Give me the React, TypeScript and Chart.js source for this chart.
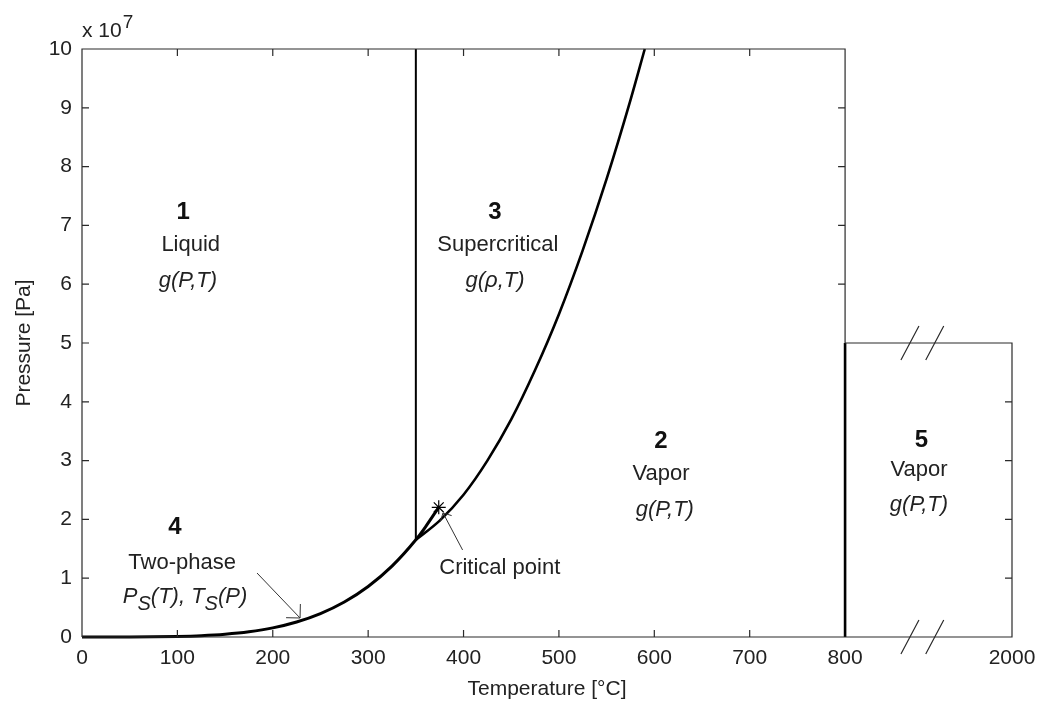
import React, { useEffect, useRef } from "react";
import { Chart, registerables } from "chart.js";

Chart.register(...registerables);

// ---------- data (temperature in °C, pressure in units of 1e7 Pa) ----------
const saturationT = [0, 25, 50, 75, 100, 125, 150, 175, 200, 225, 250, 275, 300, 325, 350, 360, 374];
const saturationP = [0.0001, 0.0003, 0.0012, 0.0039, 0.0101, 0.0232, 0.0476, 0.089, 0.155, 0.255, 0.398, 0.595, 0.859, 1.205, 1.653, 1.87, 2.206];

const b23T = [350, 375, 400, 425, 450, 475, 500, 525, 550, 575, 590];
const b23P = [1.653, 1.98, 2.42, 3.0, 3.7, 4.54, 5.49, 6.58, 7.79, 9.13, 10.0];

const b13T = [350, 350];
const b13P = [1.653, 10];

const b25T = [800, 800];
const b25P = [0, 5];

const criticalT = [374];
const criticalP = [2.206];

const xTickValues = [0, 100, 200, 300, 400, 500, 600, 700, 800, 975];
const xTickLabels = ["0", "100", "200", "300", "400", "500", "600", "700", "800", "2000"];
const yTickValues = [0, 1, 2, 3, 4, 5, 6, 7, 8, 9, 10];

const xMain = 800; // end of the main temperature range
const xEnd = 975; // axis end (labelled 2000)
const yMax = 10;
const region5Top = 5;
const breakMarksX = [868, 894];

// annotation texts (anchored in data coordinates)
const regionNumbers = [
  { text: "1", x: 106, y: 7.23 },
  { text: "3", x: 433, y: 7.23 },
  { text: "2", x: 607, y: 3.32 },
  { text: "5", x: 880, y: 3.35 },
  { text: "4", x: 97.5, y: 1.87 },
];
const regionNames = [
  { text: "Liquid", x: 114, y: 6.67 },
  { text: "Supercritical", x: 436, y: 6.67 },
  { text: "Vapor", x: 607, y: 2.77 },
  { text: "Vapor", x: 877.5, y: 2.84 },
  { text: "Two-phase", x: 105, y: 1.26 },
  { text: "Critical point", x: 438, y: 1.17 },
];
const regionFunctions = [
  { text: "g(P,T)", x: 111, y: 6.05 },
  { text: "g(\u03C1,T)", x: 433, y: 6.05 },
  { text: "g(P,T)", x: 611, y: 2.16 },
  { text: "g(P,T)", x: 877.5, y: 2.24 },
];
const twoPhaseFunctionPos = { x: 108, y: 0.68 };
const arrows = [
  { x1: 183.5, y1: 1.088, x2: 228.6, y2: 0.323, head: 14 },
  { x1: 399, y1: 1.48, x2: 378.5, y2: 2.11, head: 9 },
];

const FONT = 'Arial, "Liberation Sans", Helvetica, sans-serif';
const TEXT_COLOR = "#222";

function pts(xs: number[], ys: number[]) {
  return xs.map((x, i) => ({ x, y: ys[i] }));
}

const framePlugin = {
  id: "frameAndText",
  afterDraw(chart: any) {
    const ctx = chart.ctx as CanvasRenderingContext2D;
    const xs = chart.scales.x;
    const ys = chart.scales.y;
    const px = (v: number) => xs.getPixelForValue(v);
    const py = (v: number) => ys.getPixelForValue(v);
    ctx.save();

    // frame
    ctx.strokeStyle = "#2a2a2a";
    ctx.lineWidth = 1.2;
    ctx.beginPath();
    ctx.moveTo(px(0), py(0));
    ctx.lineTo(px(0), py(yMax));
    ctx.lineTo(px(xMain), py(yMax));
    ctx.lineTo(px(xMain), py(region5Top));
    ctx.lineTo(px(xEnd), py(region5Top));
    ctx.lineTo(px(xEnd), py(0));
    ctx.lineTo(px(0), py(0));
    ctx.stroke();

    // ticks (inward)
    const tl = 7;
    ctx.beginPath();
    yTickValues.forEach((v) => {
      if (v > 0 && v < yMax) {
        ctx.moveTo(px(0), py(v));
        ctx.lineTo(px(0) + tl, py(v));
      }
      if (v > region5Top && v < yMax) {
        ctx.moveTo(px(xMain), py(v));
        ctx.lineTo(px(xMain) - tl, py(v));
      }
      if (v > 0 && v < region5Top) {
        ctx.moveTo(px(xEnd), py(v));
        ctx.lineTo(px(xEnd) - tl, py(v));
      }
    });
    xTickValues.forEach((v) => {
      if (v > 0 && v < xMain) {
        ctx.moveTo(px(v), py(0));
        ctx.lineTo(px(v), py(0) - tl);
        ctx.moveTo(px(v), py(yMax));
        ctx.lineTo(px(v), py(yMax) + tl);
      }
    });
    ctx.stroke();

    // axis break marks
    ctx.beginPath();
    [0, region5Top].forEach((yv) => {
      breakMarksX.forEach((bx) => {
        const cx = px(bx);
        const cy = py(yv);
        ctx.moveTo(cx - 9, cy + 17);
        ctx.lineTo(cx + 9, cy - 17);
      });
    });
    ctx.stroke();

    // arrows
    ctx.strokeStyle = "#333";
    ctx.lineWidth = 1;
    arrows.forEach((a) => {
      const x1 = px(a.x1), y1 = py(a.y1), x2 = px(a.x2), y2 = py(a.y2);
      const ang = Math.atan2(y2 - y1, x2 - x1);
      ctx.beginPath();
      ctx.moveTo(x1, y1);
      ctx.lineTo(x2, y2);
      const spread = Math.PI / 4;
      ctx.moveTo(x2, y2);
      ctx.lineTo(x2 - a.head * Math.cos(ang - spread), y2 - a.head * Math.sin(ang - spread));
      ctx.moveTo(x2, y2);
      ctx.lineTo(x2 - a.head * Math.cos(ang + spread), y2 - a.head * Math.sin(ang + spread));
      ctx.stroke();
    });

    // texts
    ctx.textAlign = "center";
    ctx.textBaseline = "middle";
    ctx.font = `bold 24px ${FONT}`;
    ctx.fillStyle = "#111";
    regionNumbers.forEach((t) => ctx.fillText(t.text, px(t.x), py(t.y)));
    ctx.fillStyle = TEXT_COLOR;
    ctx.font = `22px ${FONT}`;
    regionNames.forEach((t) => ctx.fillText(t.text, px(t.x), py(t.y)));
    ctx.font = `italic 22px ${FONT}`;
    regionFunctions.forEach((t) => ctx.fillText(t.text, px(t.x), py(t.y)));

    // P_S(T), T_S(P)
    const segs = [
      { t: "P", f: `italic 22px ${FONT}`, dy: 0 },
      { t: "S", f: `italic 20px ${FONT}`, dy: 7 },
      { t: "(T), ", f: `italic 22px ${FONT}`, dy: 0 },
      { t: "T", f: `italic 22px ${FONT}`, dy: 0 },
      { t: "S", f: `italic 20px ${FONT}`, dy: 7 },
      { t: "(P)", f: `italic 22px ${FONT}`, dy: 0 },
    ];
    let total = 0;
    segs.forEach((s) => {
      ctx.font = s.f;
      total += ctx.measureText(s.t).width;
    });
    let cx = px(twoPhaseFunctionPos.x) - total / 2;
    const cy = py(twoPhaseFunctionPos.y);
    ctx.textAlign = "left";
    segs.forEach((s) => {
      ctx.font = s.f;
      ctx.fillText(s.t, cx, cy + s.dy);
      cx += ctx.measureText(s.t).width;
    });

    // exponent label
    ctx.textBaseline = "alphabetic";
    ctx.font = `21px ${FONT}`;
    const base = "x 10";
    ctx.fillText(base, chart.chartArea.left, chart.chartArea.top - 12);
    const bw = ctx.measureText(base).width;
    ctx.font = `19px ${FONT}`;
    ctx.fillText("7", chart.chartArea.left + bw + 1, chart.chartArea.top - 21);

    ctx.restore();
  },
};

export default function App() {
  const canvasRef = useRef<HTMLCanvasElement | null>(null);

  useEffect(() => {
    document.body.style.margin = "0";
    const canvas = canvasRef.current;
    if (!canvas) return;
    const lineBase = { showLine: true, pointRadius: 0, borderColor: "#000", tension: 0, clip: false as any, fill: false };
    const chart = new Chart(canvas, {
      type: "line",
      data: {
        datasets: [
          { ...lineBase, label: "saturation", data: pts(saturationT, saturationP), borderWidth: 3, cubicInterpolationMode: "monotone" },
          { ...lineBase, label: "B23", data: pts(b23T, b23P), borderWidth: 2.6, cubicInterpolationMode: "monotone" },
          { ...lineBase, label: "B13", data: pts(b13T, b13P), borderWidth: 2 },
          { ...lineBase, label: "B25", data: pts(b25T, b25P), borderWidth: 2.6 },
          {
            label: "critical",
            data: pts(criticalT, criticalP),
            showLine: false,
            pointStyle: "star",
            pointRadius: 7,
            pointBorderWidth: 1.2,
            borderColor: "#000",
            backgroundColor: "#000",
            clip: false as any,
          },
        ],
      },
      options: {
        animation: false,
        responsive: false,
        devicePixelRatio: 1,
        layout: { padding: { top: 49, right: 27, left: 0, bottom: 0 } },
        plugins: { legend: { display: false }, tooltip: { enabled: false } },
        scales: {
          x: {
            type: "linear",
            min: 0,
            max: xEnd,
            afterBuildTicks: (s: any) => {
              s.ticks = xTickValues.map((v) => ({ value: v }));
            },
            afterFit: (s: any) => {
              s.height = 65;
              s.paddingLeft = 0;
              s.paddingRight = 0;
            },
            grid: { display: false, drawTicks: false },
            border: { display: false },
            ticks: {
              autoSkip: false,
              maxRotation: 0,
              padding: 9,
              color: TEXT_COLOR,
              font: { family: FONT, size: 21 },
              callback: (v: any) => {
                const i = xTickValues.indexOf(Number(v));
                return i >= 0 ? xTickLabels[i] : "";
              },
            },
            title: {
              display: true,
              text: "Temperature [\u00B0C]",
              color: TEXT_COLOR,
              font: { family: FONT, size: 21 },
              padding: { top: 0, bottom: 0 },
            },
          },
          y: {
            type: "linear",
            min: 0,
            max: yMax,
            afterBuildTicks: (s: any) => {
              s.ticks = yTickValues.map((v) => ({ value: v }));
            },
            afterFit: (s: any) => {
              s.width = 82;
              s.paddingTop = 0;
              s.paddingBottom = 0;
            },
            grid: { display: false, drawTicks: false },
            border: { display: false },
            ticks: {
              padding: 10,
              color: TEXT_COLOR,
              font: { family: FONT, size: 21 },
            },
            title: {
              display: true,
              text: "Pressure [Pa]",
              color: TEXT_COLOR,
              font: { family: FONT, size: 21 },
              padding: { top: 12, bottom: 0 },
            },
          },
        },
      },
      plugins: [framePlugin],
    } as any);
    return () => chart.destroy();
  }, []);

  return (
    <div style={{ position: "fixed", left: 0, top: 0, width: 1039, height: 702, background: "#fff" }}>
      <canvas ref={canvasRef} width={1039} height={702} style={{ display: "block" }} />
    </div>
  );
}
